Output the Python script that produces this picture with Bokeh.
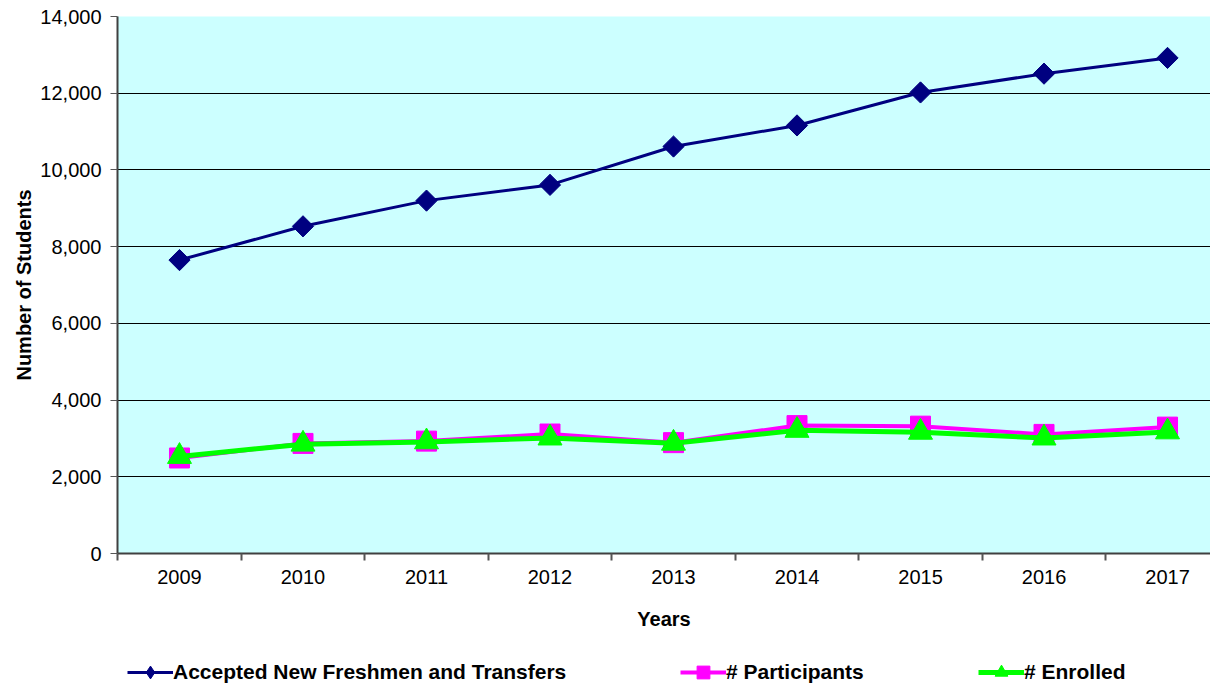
import math
from bokeh.plotting import figure
from bokeh.layouts import column
from bokeh.models import (FixedTicker, NumeralTickFormatter, Range1d, Legend, LegendItem)
from bokeh.embed import file_html
from bokeh.resources import INLINE

years = [2009, 2010, 2011, 2012, 2013, 2014, 2015, 2016, 2017]
accepted = [7650, 8530, 9200, 9610, 10610, 11160, 12020, 12510, 12920]
participants = [2490, 2870, 2930, 3115, 2890, 3335, 3320, 3105, 3295]
enrolled = [2530, 2850, 2910, 3010, 2875, 3210, 3160, 3010, 3170]
y_ticks = [0, 2000, 4000, 6000, 8000, 10000, 12000, 14000]
x_minor = [2008.5, 2009.5, 2010.5, 2011.5, 2012.5, 2013.5, 2014.5, 2015.5, 2016.5, 2017.5]
series_names = ["Accepted New Freshmen and Transfers", "# Participants", "# Enrolled"]

FONT = "Liberation Sans"
NAVY, MAGENTA, LIME = "#000080", "#FF00FF", "#00FF00"

p = figure(width=1210, height=640, output_backend="svg", toolbar_location=None,
           x_range=Range1d(2008.498, 2017.348), y_range=Range1d(0, 14000),
           min_border_left=117, min_border_top=16, min_border_right=0, min_border_bottom=87)
p.background_fill_color = "#CCFFFF"
p.border_fill_color = "white"
p.outline_line_color = None

# axes
p.xaxis.ticker = FixedTicker(ticks=years, minor_ticks=x_minor)
p.xaxis.major_tick_line_color = None
p.xaxis.minor_tick_out = 7
p.xaxis.minor_tick_in = 0
p.xaxis.minor_tick_line_color = "#555555"
p.xaxis.minor_tick_line_width = 2
p.xaxis.axis_line_color = "#404040"
p.xaxis.axis_line_width = 2
p.xaxis.major_label_standoff = 9
p.xaxis.major_label_text_font = FONT
p.xaxis.major_label_text_font_size = "20px"
p.xaxis.major_label_text_color = "black"
p.xaxis.axis_label = "Years"
p.xaxis.axis_label_text_font = FONT
p.xaxis.axis_label_text_font_size = "20px"
p.xaxis.axis_label_text_font_style = "bold"
p.xaxis.axis_label_text_color = "black"
p.xaxis.axis_label_standoff = 21

p.yaxis.ticker = FixedTicker(ticks=y_ticks)
p.yaxis.formatter = NumeralTickFormatter(format="0,0")
p.yaxis.minor_tick_line_color = None
p.yaxis.major_tick_out = 7
p.yaxis.major_tick_in = 0
p.yaxis.major_tick_line_color = "#555555"
p.yaxis.axis_line_color = "#404040"
p.yaxis.axis_line_width = 2
p.yaxis.major_label_standoff = 9
p.yaxis.major_label_text_font = FONT
p.yaxis.major_label_text_font_size = "20px"
p.yaxis.major_label_text_color = "black"
p.yaxis.axis_label = "Number of Students"
p.yaxis.axis_label_text_font = FONT
p.yaxis.axis_label_text_font_size = "20px"
p.yaxis.axis_label_text_font_style = "bold"
p.yaxis.axis_label_text_color = "black"
p.yaxis.axis_label_standoff = 2

p.xgrid.grid_line_color = None
p.ygrid.grid_line_color = "black"
p.ygrid.grid_line_width = 1

# series
p.line(years, accepted, line_color=NAVY, line_width=3)
p.scatter(years, accepted, marker="square", angle=math.pi / 4, size=15,
          fill_color=NAVY, line_color=NAVY)
p.line(years, participants, line_color=MAGENTA, line_width=4)
p.scatter(years, participants, marker="square", size=20,
          fill_color=MAGENTA, line_color=MAGENTA)
p.line(years, enrolled, line_color=LIME, line_width=5)
p.scatter(years, enrolled, marker="triangle", size=24,
          fill_color=LIME, line_color=LIME)

# legend strip below the chart (its data lies outside its ranges, only the legend shows)
q = figure(width=1210, height=44, output_backend="svg", toolbar_location=None,
           x_range=Range1d(0, 1000), y_range=Range1d(0, 40),
           x_axis_location=None, y_axis_location=None,
           min_border_left=0, min_border_right=0, min_border_top=0, min_border_bottom=0)
q.outline_line_color = None
q.xgrid.grid_line_color = None
q.ygrid.grid_line_color = None
q.background_fill_color = "white"
q.border_fill_color = "white"

specs = [
    (series_names[0], accepted, NAVY, 3, "diamond", 10),
    (series_names[1], participants, MAGENTA, 4, "square", 563),
    (series_names[2], enrolled, LIME, 5, "triangle", 861),
]
for label, vals, color, lw, mk, x in specs:
    lr = q.line(years, vals, line_color=color, line_width=lw)
    sr = q.scatter(years, vals, marker=mk, fill_color=color, line_color=color)
    lg = Legend(items=[LegendItem(label=label, renderers=[lr, sr])],
                location=(x, -4), orientation="horizontal",
                glyph_width=46, glyph_height=32, label_standoff=0, padding=0, margin=0,
                border_line_color=None, background_fill_alpha=0,
                label_text_font=FONT, label_text_font_size="21px",
                label_text_font_style="bold", label_text_color="black")
    q.add_layout(lg, "center")

layout = column(p, q, spacing=0)
open("out.html", "w").write(file_html(layout, INLINE))
